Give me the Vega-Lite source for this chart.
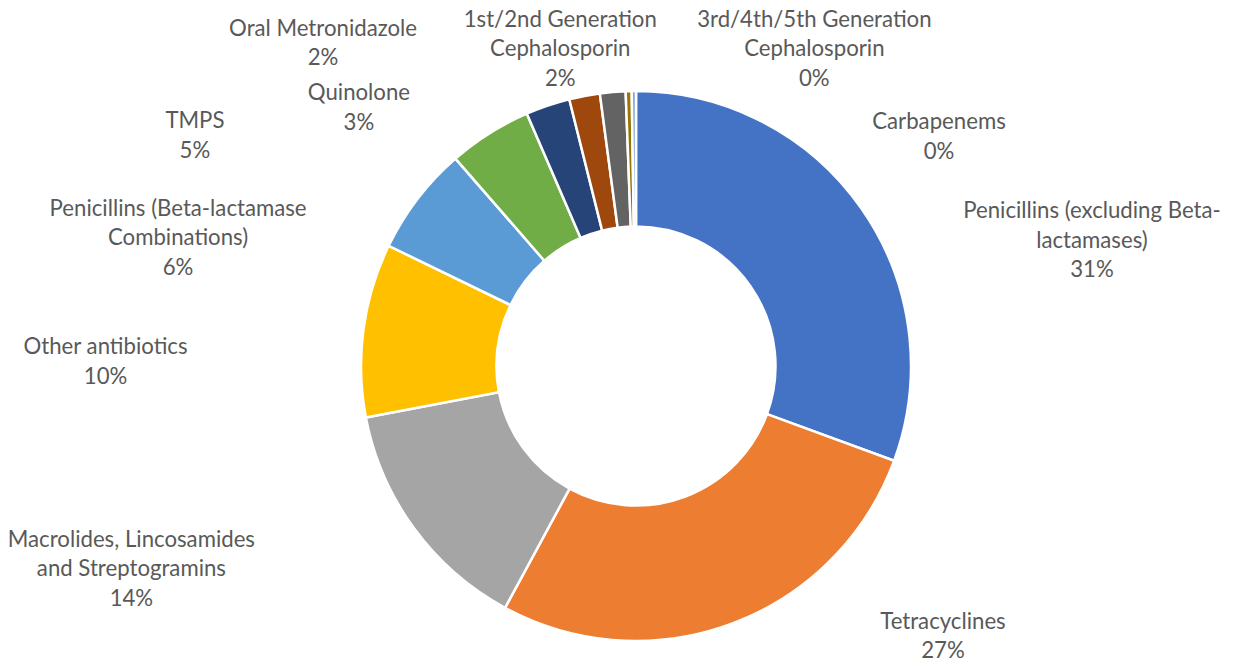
{
  "$schema": "https://vega.github.io/schema/vega-lite/v6.json",
  "width": 1194,
  "height": 600,
  "autosize": {"type": "none"},
  "padding": {"left": 39, "top": 66, "right": 0, "bottom": 0},
  "background": "white",
  "config": {"view": {"stroke": null}, "text": {"font": "Lato", "fontSize": 22.2, "fill": "#595959", "lineHeight": 29.5, "lineBreak": "\n", "align": "center", "baseline": "middle"}},
  "data": {"values": [
    {"name": "Penicillins (excluding Beta-lactamases)", "value": 30.6, "label": "Penicillins (excluding Beta-\nlactamases)\n31%"},
    {"name": "Tetracyclines", "value": 27.3, "label": "Tetracyclines\n27%"},
    {"name": "Macrolides, Lincosamides and Streptogramins", "value": 14.1, "label": "Macrolides, Lincosamides\nand Streptogramins\n14%"},
    {"name": "Other antibiotics", "value": 10.2, "label": "Other antibiotics\n10%"},
    {"name": "Penicillins (Beta-lactamase Combinations)", "value": 6.4, "label": "Penicillins (Beta-lactamase\nCombinations)\n6%"},
    {"name": "TMPS", "value": 4.9, "label": "TMPS\n5%"},
    {"name": "Quinolone", "value": 2.6, "label": "Quinolone\n3%"},
    {"name": "Oral Metronidazole", "value": 1.8, "label": "Oral Metronidazole\n2%"},
    {"name": "1st/2nd Generation Cephalosporin", "value": 1.5, "label": "1st/2nd Generation\nCephalosporin\n2%"},
    {"name": "3rd/4th/5th Generation Cephalosporin", "value": 0.35, "label": "3rd/4th/5th Generation\nCephalosporin\n0%"},
    {"name": "Carbapenems", "value": 0.25, "label": "Carbapenems\n0%"}
  ]},
  "encoding": {
    "theta": {"field": "value", "type": "quantitative", "stack": true},
    "order": {"field": "value", "type": "quantitative", "sort": "descending"}
  },
  "layer": [
    {
      "mark": {"type": "arc", "outerRadius": 275, "innerRadius": 139.5, "stroke": "white", "strokeWidth": 2.5},
      "encoding": {
        "color": {"field": "name", "type": "nominal", "legend": null,
          "scale": {"domain": ["Penicillins (excluding Beta-lactamases)", "Tetracyclines", "Macrolides, Lincosamides and Streptogramins", "Other antibiotics", "Penicillins (Beta-lactamase Combinations)", "TMPS", "Quinolone", "Oral Metronidazole", "1st/2nd Generation Cephalosporin", "3rd/4th/5th Generation Cephalosporin", "Carbapenems"],
            "range": ["#4472C4", "#ED7D31", "#A5A5A5", "#FFC000", "#5B9BD5", "#70AD47", "#264478", "#9E480E", "#636363", "#997300", "#7FA6D4"]}}
      }
    },
    {"mark": {"type": "text", "radius": 481.6, "thetaOffset": 0.2819},
     "encoding": {"text": {"condition": {"test": "datum.name === 'Penicillins (excluding Beta-lactamases)'", "field": "label"}, "value": ""}}},
    {"mark": {"type": "text", "radius": 399.7, "thetaOffset": -0.5145},
     "encoding": {"text": {"condition": {"test": "datum.name === 'Tetracyclines'", "field": "label"}, "value": ""}}},
    {"mark": {"type": "text", "radius": 533.7, "thetaOffset": 0.2997},
     "encoding": {"text": {"condition": {"test": "datum.name === 'Macrolides, Lincosamides and Streptogramins'", "field": "label"}, "value": ""}}},
    {"mark": {"type": "text", "radius": 530.8, "thetaOffset": -0.0969},
     "encoding": {"text": {"condition": {"test": "datum.name === 'Other antibiotics'", "field": "label"}, "value": ""}}},
    {"mark": {"type": "text", "radius": 484.2, "thetaOffset": -0.3225},
     "encoding": {"text": {"condition": {"test": "datum.name === 'Penicillins (Beta-lactamase Combinations)'", "field": "label"}, "value": ""}}},
    {"mark": {"type": "text", "radius": 504.5, "thetaOffset": -0.5016},
     "encoding": {"text": {"condition": {"test": "datum.name === 'TMPS'", "field": "label"}, "value": ""}}},
    {"mark": {"type": "text", "radius": 388.9, "thetaOffset": -0.4663},
     "encoding": {"text": {"condition": {"test": "datum.name === 'Quinolone'", "field": "label"}, "value": ""}}},
    {"mark": {"type": "text", "radius": 459.9, "thetaOffset": -0.5599},
     "encoding": {"text": {"condition": {"test": "datum.name === 'Oral Metronidazole'", "field": "label"}, "value": ""}}},
    {"mark": {"type": "text", "radius": 354.2, "thetaOffset": -0.1307},
     "encoding": {"text": {"condition": {"test": "datum.name === '1st/2nd Generation Cephalosporin'", "field": "label"}, "value": ""}}},
    {"mark": {"type": "text", "radius": 389.3, "thetaOffset": 0.5025},
     "encoding": {"text": {"condition": {"test": "datum.name === '3rd/4th/5th Generation Cephalosporin'", "field": "label"}, "value": ""}}},
    {"mark": {"type": "text", "radius": 389.0, "thetaOffset": 0.9008},
     "encoding": {"text": {"condition": {"test": "datum.name === 'Carbapenems'", "field": "label"}, "value": ""}}}
  ]
}
